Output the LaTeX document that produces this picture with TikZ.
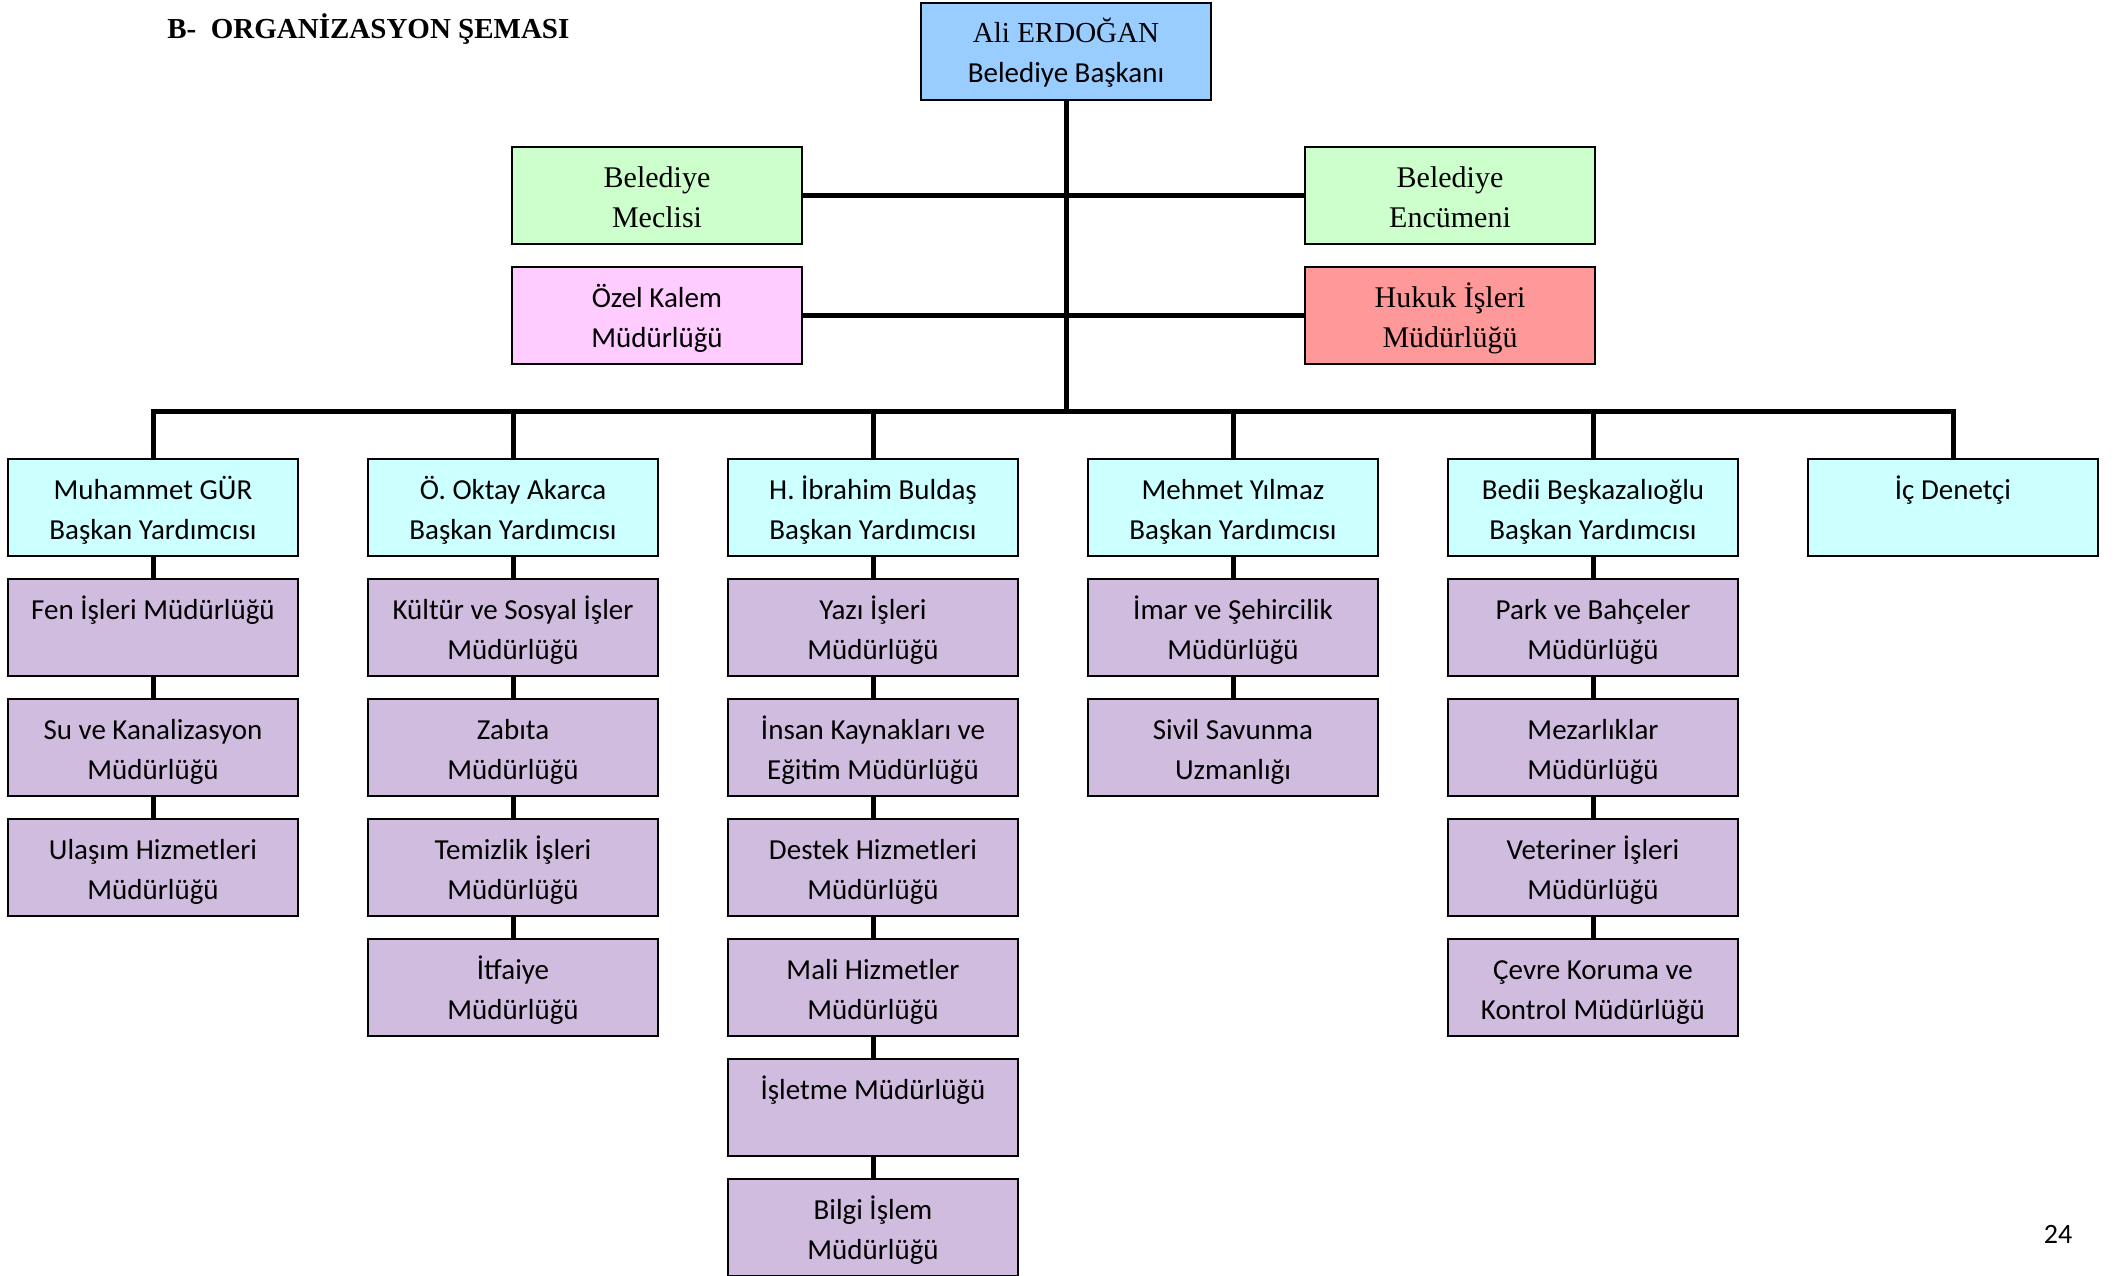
\documentclass[tikz,border=0pt]{standalone}
\usepackage{fontspec}
\setmainfont{Carlito}
\newfontfamily\serifcam{Liberation Serif}
\definecolor{baskanblue}{HTML}{99CCFF}
\definecolor{meclisgreen}{HTML}{CCFFCC}
\definecolor{kalempink}{HTML}{FFCCFF}
\definecolor{hukukred}{HTML}{FF9999}
\definecolor{yardcyan}{HTML}{CCFFFF}
\definecolor{mudpurple}{HTML}{D0BCDF}
\newcommand\lstrut{\rule[-4pt]{0pt}{19.5pt}}
\newcommand\twoline[2]{\lstrut#1\\#2\lstrut}
\tikzset{
  unit/.style={draw=black, line width=1pt, rectangle, minimum width=145pt, minimum height=48.5pt, inner sep=0pt, align=center, font=\fontsize{14.5}{20}\selectfont},
  serifunit/.style={unit, font=\serifcam\fontsize{15}{20}\selectfont},
  yard/.style={unit, fill=yardcyan},
  mud/.style={unit, fill=mudpurple},
  link/.style={line width=2.5pt, line join=miter}
}
\begin{document}
\begin{tikzpicture}[x=0.5pt, y=-0.5pt]
\useasboundingbox (0,0) rectangle (2125,1275);
\node[anchor=base west, font=\serifcam\bfseries\fontsize{14.5}{17}\selectfont, inner sep=0pt] (title) at (167,38) {B-\ \ ORGANİZASYON ŞEMASI};
\node[anchor=base, font=\fontsize{14}{17}\selectfont, inner sep=0pt] (pageno) at (2058,1243) {24};

\node[unit, fill=baskanblue] (baskan) at (1066,51) {\twoline{{\serifcam Ali ERDOĞAN}}{Belediye Başkanı}};
\node[serifunit, fill=meclisgreen] (meclis) at (657,195.5) {\twoline{Belediye}{Meclisi}};
\node[serifunit, fill=meclisgreen] (encumen) at (1450,195.5) {\twoline{Belediye}{Encümeni}};
\node[unit, fill=kalempink] (kalem) at (657,315.5) {\twoline{Özel Kalem}{Müdürlüğü}};
\node[serifunit, fill=hukukred] (hukuk) at (1450,315.5) {\twoline{Hukuk İşleri}{Müdürlüğü}};
\coordinate (bus) at (1066,411);

\node[yard] (vp1) at (153,507.5) {\twoline{Muhammet GÜR}{Başkan Yardımcısı}};
\node[yard] (vp2) at (513,507.5) {\twoline{Ö. Oktay Akarca}{Başkan Yardımcısı}};
\node[yard] (vp3) at (873,507.5) {\twoline{H. İbrahim Buldaş}{Başkan Yardımcısı}};
\node[yard] (vp4) at (1233,507.5) {\twoline{Mehmet Yılmaz}{Başkan Yardımcısı}};
\node[yard] (vp5) at (1593,507.5) {\twoline{Bedii Beşkazalıoğlu}{Başkan Yardımcısı}};
\node[yard] (denetci) at (1953,507.5) {\twoline{İç Denetçi}{}};

\node[mud] (fen) at (153,627.5) {\twoline{Fen İşleri Müdürlüğü}{}};
\node[mud] (su) at (153,747.5) {\twoline{Su ve Kanalizasyon}{Müdürlüğü}};
\node[mud] (ulasim) at (153,867.5) {\twoline{Ulaşım Hizmetleri}{Müdürlüğü}};

\node[mud] (kultur) at (513,627.5) {\twoline{Kültür ve Sosyal İşler}{Müdürlüğü}};
\node[mud] (zabita) at (513,747.5) {\twoline{Zabıta}{Müdürlüğü}};
\node[mud] (temizlik) at (513,867.5) {\twoline{Temizlik İşleri}{Müdürlüğü}};
\node[mud] (itfaiye) at (513,987.5) {\twoline{İtfaiye}{Müdürlüğü}};

\node[mud] (yazi) at (873,627.5) {\twoline{Yazı İşleri}{Müdürlüğü}};
\node[mud] (insan) at (873,747.5) {\twoline{İnsan Kaynakları ve}{Eğitim Müdürlüğü}};
\node[mud] (destek) at (873,867.5) {\twoline{Destek Hizmetleri}{Müdürlüğü}};
\node[mud] (mali) at (873,987.5) {\twoline{Mali Hizmetler}{Müdürlüğü}};
\node[mud] (isletme) at (873,1107.5) {\twoline{İşletme Müdürlüğü}{}};
\node[mud] (bilgi) at (873,1227.5) {\twoline{Bilgi İşlem}{Müdürlüğü}};

\node[mud] (imar) at (1233,627.5) {\twoline{İmar ve Şehircilik}{Müdürlüğü}};
\node[mud] (sivil) at (1233,747.5) {\twoline{Sivil Savunma}{Uzmanlığı}};

\node[mud] (park) at (1593,627.5) {\twoline{Park ve Bahçeler}{Müdürlüğü}};
\node[mud] (mezar) at (1593,747.5) {\twoline{Mezarlıklar}{Müdürlüğü}};
\node[mud] (veteriner) at (1593,867.5) {\twoline{Veteriner İşleri}{Müdürlüğü}};
\node[mud] (cevre) at (1593,987.5) {\twoline{Çevre Koruma ve}{Kontrol Müdürlüğü}};

\draw[link] (baskan) -- (bus);
\draw[link] (meclis) -- (encumen);
\draw[link] (kalem) -- (hukuk);
\draw[link] (bus) -| (vp1);
\draw[link] (bus) -| (vp2);
\draw[link] (bus) -| (vp3);
\draw[link] (bus) -| (vp4);
\draw[link] (bus) -| (vp5);
\draw[link] (bus) -| (denetci);

\draw[link] (vp1) -- (fen);
\draw[link] (fen) -- (su);
\draw[link] (su) -- (ulasim);
\draw[link] (vp2) -- (kultur);
\draw[link] (kultur) -- (zabita);
\draw[link] (zabita) -- (temizlik);
\draw[link] (temizlik) -- (itfaiye);
\draw[link] (vp3) -- (yazi);
\draw[link] (yazi) -- (insan);
\draw[link] (insan) -- (destek);
\draw[link] (destek) -- (mali);
\draw[link] (mali) -- (isletme);
\draw[link] (isletme) -- (bilgi);
\draw[link] (vp4) -- (imar);
\draw[link] (imar) -- (sivil);
\draw[link] (vp5) -- (park);
\draw[link] (park) -- (mezar);
\draw[link] (mezar) -- (veteriner);
\draw[link] (veteriner) -- (cevre);
\end{tikzpicture}
\end{document}
